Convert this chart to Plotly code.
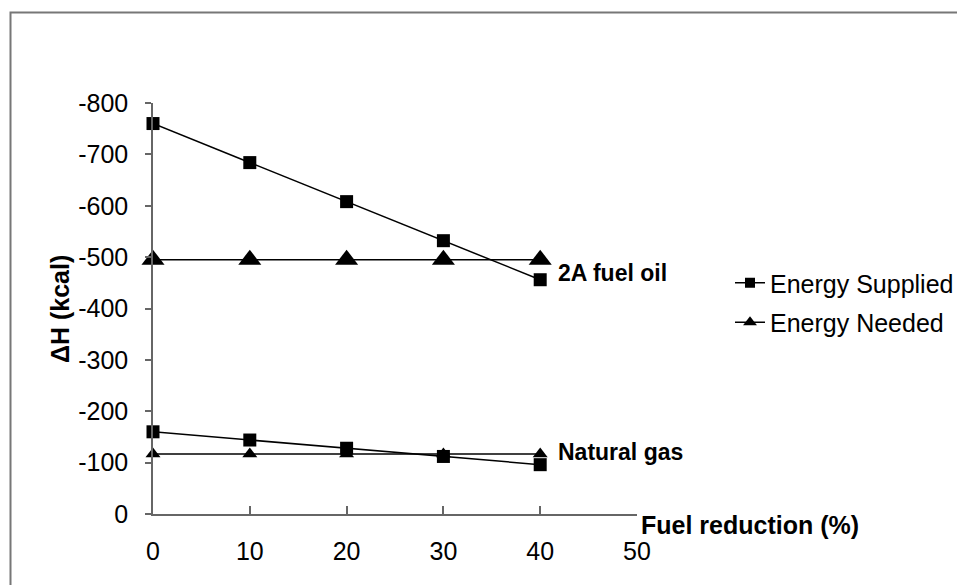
import plotly.graph_objects as go

# ---- data ----
fuel_reduction = [0, 10, 20, 30, 40]
oil_supplied = [-760, -684, -608, -532, -456]
oil_needed = [-495, -495, -495, -495, -495]
gas_supplied = [-160, -144, -128, -112, -96]
gas_needed = [-117, -117, -117, -117, -117]

x_ticks = [0, 10, 20, 30, 40, 50]
y_ticks = [0, -100, -200, -300, -400, -500, -600, -700, -800]
y_tick_labels = ["0", "-100", "-200", "-300", "-400", "-500", "-600", "-700", "-800"]

FONT = "Liberation Sans, Arial, sans-serif"
W, H = 965, 585
OFF = 8  # page body margin
# plot area in page pixels
PL, PR, PT, PB = 153, 637, 103, 514
L = PL - OFF
T = PT - OFF
R = W - (PR - OFF)
B = H - (PB - OFF)
PW, PH = PR - PL, PB - PT

def px_x(p):
    return (p - PL) / PW

def px_y(p):
    return (PB - p) / PH

line = dict(color="black", width=1.5)

fig = go.Figure()
fig.add_trace(go.Scatter(x=fuel_reduction, y=oil_supplied, mode="lines+markers",
                         line=line, marker=dict(symbol="square", size=13, color="black"),
                         showlegend=False, cliponaxis=False))
fig.add_trace(go.Scatter(x=fuel_reduction, y=oil_needed, mode="lines+markers",
                         line=line, marker=dict(symbol="triangle-up", size=20, color="black"),
                         showlegend=False, cliponaxis=False))
fig.add_trace(go.Scatter(x=fuel_reduction, y=gas_supplied, mode="lines+markers",
                         line=line, marker=dict(symbol="square", size=13, color="black"),
                         showlegend=False, cliponaxis=False))
fig.add_trace(go.Scatter(x=fuel_reduction, y=gas_needed, mode="lines+markers",
                         line=line, marker=dict(symbol="triangle-up", size=13, color="black"),
                         showlegend=False, cliponaxis=False))
# legend entries
fig.add_trace(go.Scatter(x=[None], y=[None], mode="lines+markers", name="Energy Supplied",
                         legendgroup="a", line=line,
                         marker=dict(symbol="square", size=10, color="black")))
fig.add_trace(go.Scatter(x=[None], y=[None], mode="lines+markers", name="Energy Needed",
                         legendgroup="b", line=line,
                         marker=dict(symbol="triangle-up", size=12, color="black")))

axis_col = "#666666"
fig.update_xaxes(range=[0, 50], tickvals=x_ticks, ticks="inside", ticklen=8,
                 tickcolor=axis_col, tickwidth=1.5, showline=True, linecolor=axis_col,
                 linewidth=1.5, showgrid=False, zeroline=False,
                 tickfont=dict(family=FONT, size=25, color="black"),
                 ticklabelstandoff=14)
fig.update_yaxes(range=[0, -800], autorange=False, tickvals=y_ticks, ticktext=y_tick_labels,
                 ticks="outside", ticklen=6, tickcolor=axis_col, tickwidth=1.5,
                 showline=True, linecolor=axis_col, linewidth=1.5, showgrid=False,
                 zeroline=False, tickfont=dict(family=FONT, size=25, color="black"),
                 ticklabelstandoff=12)

annotations = [
    dict(text="<b>ΔH (kcal)</b>", xref="paper", yref="paper", x=px_x(60), y=px_y(309),
         textangle=-90, showarrow=False, xanchor="center", yanchor="middle",
         font=dict(family=FONT, size=25, color="black")),
    dict(text="<b>Fuel reduction (%)</b>", xref="paper", yref="paper", x=px_x(639),
         y=px_y(525), showarrow=False, xanchor="left", yanchor="middle",
         font=dict(family=FONT, size=25, color="black")),
    dict(text="<b>2A fuel oil</b>", xref="paper", yref="paper", x=px_x(556),
         y=px_y(273), showarrow=False, xanchor="left", yanchor="middle",
         font=dict(family=FONT, size=23, color="black")),
    dict(text="<b>Natural gas</b>", xref="paper", yref="paper", x=px_x(556),
         y=px_y(452), showarrow=False, xanchor="left", yanchor="middle",
         font=dict(family=FONT, size=23, color="black")),
]

fig.update_layout(
    width=W, height=H,
    margin=dict(l=L, r=R, t=T, b=B, pad=0),
    paper_bgcolor="white", plot_bgcolor="white",
    font=dict(family=FONT, color="black"),
    annotations=annotations,
    legend=dict(x=px_x(730), y=px_y(260), xanchor="left", yanchor="top",
                font=dict(family=FONT, size=25, color="black"),
                traceorder="grouped", tracegroupgap=4, bgcolor="rgba(0,0,0,0)"),
    shapes=[dict(type="rect", xref="paper", yref="paper",
                 x0=px_x(10.5), x1=px_x(990), y0=px_y(610), y1=px_y(12.5),
                 line=dict(color="#777777", width=2), layer="below")],
)

fig.write_html("out.html")
